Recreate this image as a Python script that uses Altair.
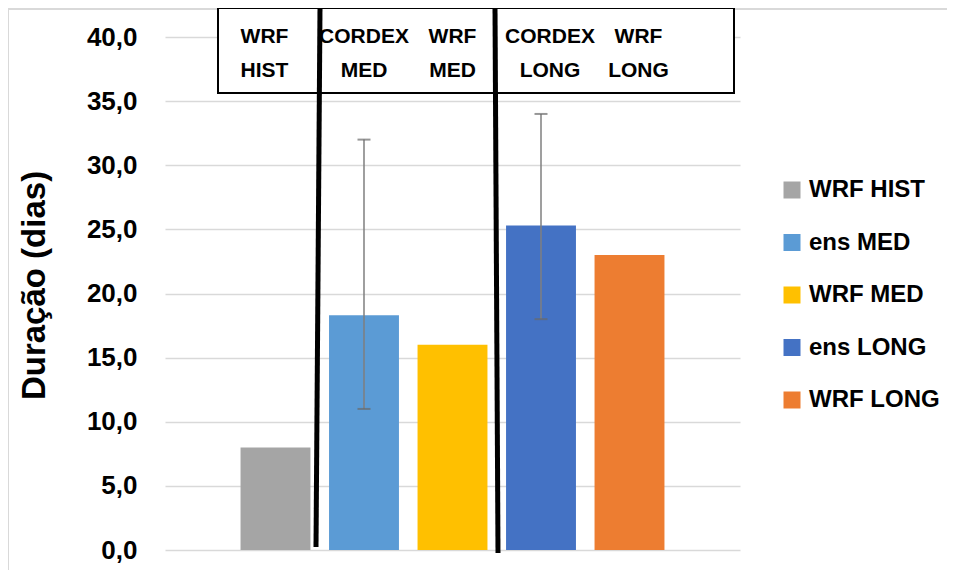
import altair as alt
import pandas as pd

# ---- data ----
series = ["WRF HIST", "ens MED", "WRF MED", "ens LONG", "WRF LONG"]
values = [8.0, 18.3, 16.0, 25.3, 23.0]
err_lo = [None, 11.0, None, 18.0, None]
err_hi = [None, 32.0, None, 34.0, None]
colors = ["#a5a5a5", "#5b9bd5", "#ffc000", "#4472c4", "#ed7d31"]
box_labels = ["WRF\nHIST", "CORDEX\nMED", "WRF\nMED", "CORDEX\nLONG", "WRF\nLONG"]
y_ticks = [0, 5, 10, 15, 20, 25, 30, 35, 40]

df = pd.DataFrame({"serie": series, "valor": values, "lo": err_lo, "hi": err_hi,
                   "rotulo": box_labels})
err = df.dropna(subset=["lo"])

W, H = 575, 513
FONT = "Liberation Sans"

xscale = alt.Scale(domain=series, paddingInner=0.21, paddingOuter=0.8535)
yscale = alt.Scale(domain=[0, 40], nice=False)

bars = alt.Chart(df).mark_bar().encode(
    x=alt.X("serie:N", scale=xscale, axis=None, sort=series),
    y=alt.Y("valor:Q", scale=yscale,
            axis=alt.Axis(values=y_ticks, title="Duração (dias)",
                          labelExpr="replace(format(datum.value, '.1f'), '.', ',')",
                          labelFont=FONT, labelFontSize=26, labelFontWeight="bold",
                          labelColor="#000000", labelPadding=28, tickSize=0, domain=False,
                          grid=True, gridColor="#d9d9d9", gridWidth=1.5,
                          titleFont=FONT, titleFontSize=33, titleFontWeight="bold",
                          titleColor="#000000", titleAngle=-90, titleX=-131, titleY=248,
                          titleAlign="center", titleBaseline="middle")),
    color=alt.Color("serie:N", scale=alt.Scale(domain=series, range=colors),
                    sort=series,
                    legend=alt.Legend(title=None, orient="none", legendX=615, legendY=141,
                                      symbolType="square", symbolSize=289,
                                      symbolStrokeWidth=0, labelFont=FONT,
                                      labelFontSize=24, labelFontWeight="bold",
                                      labelColor="#000000", labelOffset=5,
                                      rowPadding=28.5, padding=0)),
)

stems = alt.Chart(err).mark_rule(color="#7f7f7f", strokeWidth=1.5).encode(
    x=alt.X("serie:N", scale=xscale, sort=series),
    y=alt.Y("lo:Q", scale=yscale),
    y2="hi:Q",
)
caps_hi = alt.Chart(err).mark_tick(color="#6a6a6a", thickness=2, size=13).encode(
    x=alt.X("serie:N", scale=xscale, sort=series),
    y=alt.Y("hi:Q", scale=yscale),
)
caps_lo = alt.Chart(err).mark_tick(color="#6a6a6a", thickness=2, size=13).encode(
    x=alt.X("serie:N", scale=xscale, sort=series),
    y=alt.Y("lo:Q", scale=yscale),
)

# chart border (Excel chart area)
one = df.head(1)
border_top = alt.Chart(one).mark_rule(color="#d9d9d9", strokeWidth=2).encode(
    x=alt.value(-157), x2=alt.value(W + 207), y=alt.value(-28), y2=alt.value(-28))
border_left = alt.Chart(one).mark_rule(color="#d9d9d9", strokeWidth=2).encode(
    x=alt.value(-157), x2=alt.value(-157), y=alt.value(-28), y2=alt.value(H + 25))

# annotation box on top
box = alt.Chart(one).mark_rect(fill="white", stroke="#000000", strokeWidth=2).encode(
    x=alt.value(53), x2=alt.value(569), y=alt.value(-29), y2=alt.value(56))
line1 = alt.Chart(one).mark_rule(color="#000000", strokeWidth=5).encode(
    x=alt.value(155), x2=alt.value(151), y=alt.value(-29), y2=alt.value(510))
line2 = alt.Chart(one).mark_rule(color="#000000", strokeWidth=5).encode(
    x=alt.value(330), x2=alt.value(333), y=alt.value(-29), y2=alt.value(516))


def label_layer(names, dx):
    return alt.Chart(df).transform_filter(
        alt.FieldOneOfPredicate(field="serie", oneOf=names)
    ).mark_text(font=FONT, fontSize=21, fontWeight="bold", color="#000000",
                lineBreak="\n", lineHeight=34, baseline="top", dx=dx).encode(
        x=alt.X("serie:N", scale=xscale, sort=series),
        y=alt.value(-11),
        text="rotulo:N",
    )


labels1 = label_layer(["WRF HIST"], -11)
labels2 = label_layer(["ens MED", "WRF MED"], 0)
labels3 = label_layer(["ens LONG", "WRF LONG"], 9)

chart = alt.layer(border_top, border_left, bars, stems, caps_hi, caps_lo,
                  box, line1, line2, labels1, labels2, labels3).properties(
    width=W, height=H,
    autosize=alt.AutoSizeParams(type="none"),
    padding={"left": 157, "top": 29, "right": 207, "bottom": 20},
).configure(background="white").configure_view(stroke=None)

chart.save("out.html", embed_options={"renderer": "svg", "actions": False})
